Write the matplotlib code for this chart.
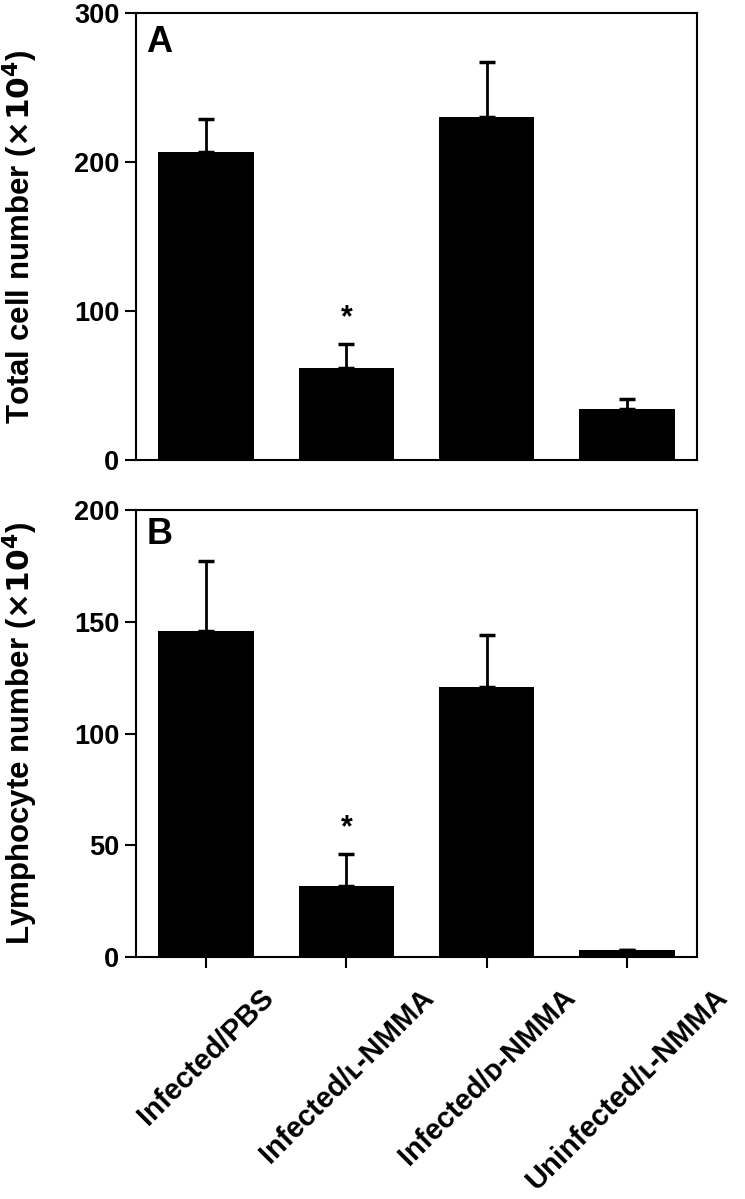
import numpy as np
import matplotlib
matplotlib.use("Agg")
import matplotlib.pyplot as plt

plt.rcParams['font.family'] = ['Liberation Sans', 'DejaVu Sans']
plt.rcParams['font.weight'] = 'bold'

# donnees
groupes = ['Infected/PBS', 'Infected/\u029f-NMMA', 'Infected/\u1d05-NMMA', 'Uninfected/\u029f-NMMA']
total = [207, 62, 230, 34]
total_err = [22, 16, 37, 7]
lympho = [146, 32, 121, 3]
lympho_err = [31, 14, 23, 0]
etoile_total = 90   # ligne de base de l'asterisque (panel A)
etoile_lympho = 54  # ligne de base de l'asterisque (panel B)

x = np.arange(len(groupes))

fig = plt.figure(figsize=(7.45, 11.99), dpi=100)
axA = fig.add_axes([0.1826, 0.6164, 0.7530, 0.3728])
axB = fig.add_axes([0.1826, 0.2018, 0.7530, 0.3728])


def panneau(ax, valeurs, erreurs, ymax, pas, etoile, lettre, y_lettre, ylabel):
    ax.bar(x, valeurs, width=0.68, color='black', zorder=2)
    ax.errorbar(x, valeurs, yerr=[np.zeros(len(erreurs)), erreurs], fmt='none',
                ecolor='black', elinewidth=2, capsize=5.5, capthick=2.5, zorder=1)
    ax.text(1, etoile, '*', ha='center', va='baseline', fontsize=22, fontweight='bold')
    ax.text(0.018, y_lettre, lettre, transform=ax.transAxes, ha='left', va='top',
            fontsize=26, fontweight='bold')
    ax.set_xlim(-0.5, 3.5)
    ax.set_ylim(0, ymax)
    ax.set_yticks(np.arange(0, ymax + 1, pas))
    ax.tick_params(axis='y', direction='out', length=8, width=1.5, pad=4, labelsize=19.5)
    for s in ax.spines.values():
        s.set_linewidth(1.5)
    ax.set_ylabel(ylabel, fontsize=22.5, fontweight='bold')
    ax.yaxis.set_label_coords(-0.171, 0.5)


panneau(axA, total, total_err, 300, 100, etoile_total, 'A', 0.973,
        r'Total cell number ($\mathbf{\times 10^4}$)')
panneau(axB, lympho, lympho_err, 200, 50, etoile_lympho, 'B', 0.984,
        r'Lymphocyte number ($\mathbf{\times 10^4}$)')

axA.set_xticks([])
axB.set_xticks(x)
axB.set_xticklabels(groupes, rotation=45, ha='center', fontsize=21, fontweight='bold')
axB.tick_params(axis='x', direction='out', length=8, width=1.5, pad=11)

plt.savefig('out.png', dpi=100)
